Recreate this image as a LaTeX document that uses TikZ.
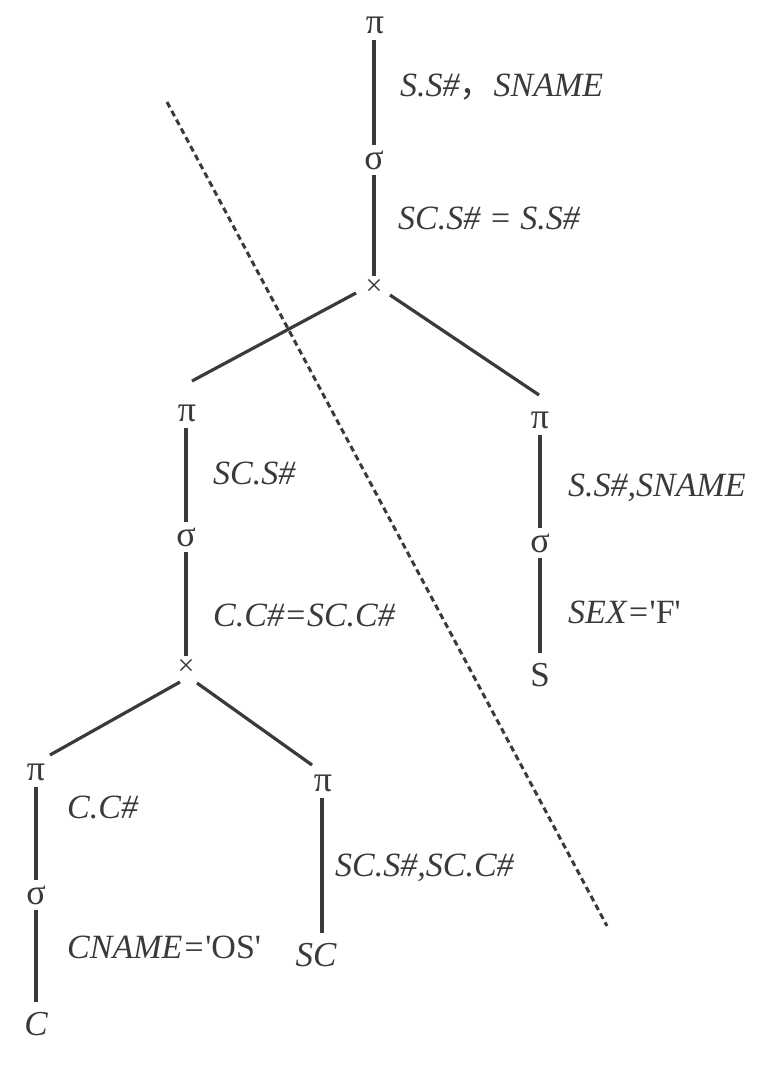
\documentclass[tikz,border=0pt]{standalone}
\usepackage{fontspec}
\setmainfont{Liberation Serif}
\newfontfamily\cjk{Noto Sans CJK SC}
\usetikzlibrary{calc}
\definecolor{ink}{HTML}{3A3A3A}
\begin{document}
\begin{tikzpicture}[x=1pt,y=-1pt,
  op/.style={text=ink,font=\fontsize{36}{36}\selectfont,inner sep=0pt,minimum height=30pt,minimum width=16pt},
  cross/.style={text=ink,font=\fontsize{30}{30}\selectfont,inner sep=0pt,minimum height=22pt,minimum width=14pt},
  leaf/.style={text=ink,font=\fontsize{35}{35}\selectfont,inner sep=0pt,minimum height=44pt},
  lbl/.style={anchor=base west,text=ink,font=\fontsize{34}{38}\selectfont\itshape,inner sep=0pt},
  edge/.style={draw=ink,line width=3.2pt},
  cut/.style={draw=ink,line width=3pt,dash pattern=on 6pt off 4pt}]
\useasboundingbox[fill=white] (0,0) rectangle (773,1068);
% top chain
\node[op] (pi1) at (375,25) {π};
\node[op] (s1) at (374,160) {σ};
\node[cross] (x1) at (374,287) {×};
% left subtree
\node[op] (pi2) at (187,413) {π};
\node[op] (s2) at (186,537) {σ};
\node[cross] (x2) at (186,667) {×};
% right subtree
\node[op] (pi3) at (540,420) {π};
\node[op] (s3) at (540,543) {σ};
\node[leaf] (S) at (540,675) {S};
% bottom left
\node[op] (pi4) at (36,772) {π};
\node[op] (s4) at (36,895) {σ};
\node[leaf] (C) at (36,1024) {\itshape C};
% bottom right
\node[op] (pi5) at (323,783) {π};
\node[leaf] (SC) at (316,955) {\itshape SC};
% labels
\node[lbl] (l1) at (400,96) {S.S\#{\upshape\cjk ，}SNAME};
\node[lbl] (l2) at (398,229) {SC.S\# = S.S\#};
\node[lbl] (l3) at (213,484) {SC.S\#};
\node[lbl] (l4) at (213,626) {C.C\#=SC.C\#};
\node[lbl] (l5) at (568,496) {S.S\#,SNAME};
\node[lbl] (l6) at (568,623) {SEX={\upshape\textquotesingle F\textquotesingle}};
\node[lbl] (l7) at (67,818) {C.C\#};
\node[lbl] (l8) at (67,958) {CNAME={\upshape\textquotesingle OS\textquotesingle}};
\node[lbl] (l9) at (335,876) {SC.S\#,SC.C\#};
% vertical edges
\draw[edge] (pi1.south -| s1) -- (s1);
\draw[edge] (s1) -- (x1);
\draw[edge] (pi2.south -| s2) -- (s2);
\draw[edge] (s2) -- (x2);
\draw[edge] (pi3) -- (s3);
\draw[edge] (s3) -- (S);
\draw[edge] (pi4) -- (s4);
\draw[edge] (s4) -- (C);
\draw[edge] (pi5.south -| 322,0) -- (SC.north -| 322,0);
% diagonal edges
\draw[edge] ($(x1)+(-18,6)$) -- ($(pi2)+(5,-32)$);
\draw[edge] ($(x1)+(16,8)$) -- ($(pi3)+(-1,-25)$);
\draw[edge] ($(x2)+(-6,15)$) -- ($(pi4)+(14,-17)$);
\draw[edge] ($(x2)+(11,16)$) -- ($(pi5)+(-11,-18)$);
% dashed cut line
\coordinate (cutA) at (167,102);
\coordinate (cutB) at (607,926);
\draw[cut] (cutA) -- (cutB);
\end{tikzpicture}
\end{document}
